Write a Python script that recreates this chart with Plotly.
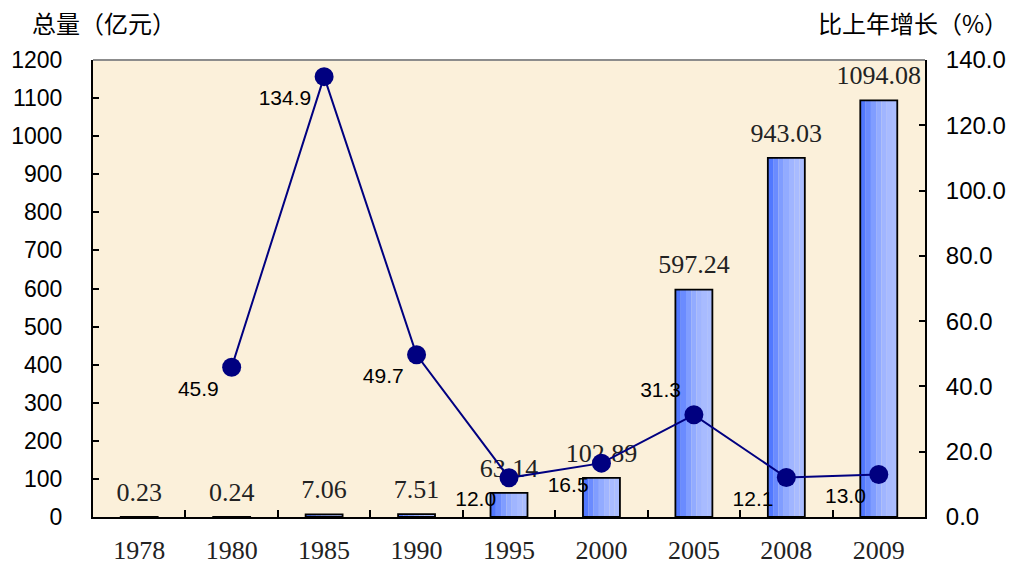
import plotly.graph_objects as go

years = ["1978", "1980", "1985", "1990", "1995", "2000", "2005", "2008", "2009"]
totals = [0.23, 0.24, 7.06, 7.51, 63.14, 102.89, 597.24, 943.03, 1094.08]
total_labels = ["0.23", "0.24", "7.06", "7.51", "63.14", "102.89", "597.24", "943.03", "1094.08"]
growth = [None, 45.9, 134.9, 49.7, 12.0, 16.5, 31.3, 12.1, 13.0]
growth_labels = ["", "45.9", "134.9", "49.7", "12.0", "16.5", "31.3", "12.1", "13.0"]

left_title = "总量（亿元）"
right_title = "比上年增长（%）"

fig = go.Figure()

# gradient-like bar fill built from narrow overlaid strips
bar_w = 0.40
strip_colors = ["#5178ff", "#6a8bff", "#809dff", "#92abff", "#a0b5ff", "#a8bbff", "#aabdff"]
n = len(strip_colors)
sw = bar_w / n
for i, c in enumerate(strip_colors):
    fig.add_trace(go.Bar(
        x=years, y=totals, width=sw * 1.02, offset=-bar_w / 2 + i * sw,
        marker=dict(color=c, line=dict(width=0)),
        showlegend=False, hoverinfo="skip", yaxis="y"))

# outline
fig.add_trace(go.Bar(
    x=years, y=totals, width=bar_w, offset=-bar_w / 2,
    marker=dict(color="rgba(0,0,0,0)", line=dict(color="black", width=1.8)),
    showlegend=False, hoverinfo="skip", yaxis="y"))

# bar value labels
fig.add_trace(go.Scatter(
    x=years, y=totals, mode="markers+text", text=total_labels,
    textposition="top center",
    marker=dict(size=14, color="rgba(0,0,0,0)"),
    textfont=dict(family="Liberation Serif", size=26, color="#222222"),
    showlegend=False, hoverinfo="skip", yaxis="y", cliponaxis=False))

# growth line
positions = ["bottom left"] * len(years)
positions[6] = "top left"
fig.add_trace(go.Scatter(
    x=years, y=growth, mode="lines+markers+text", text=growth_labels,
    textposition=positions,
    textfont=dict(family="Liberation Sans", size=21, color="black"),
    line=dict(color="#000080", width=2),
    marker=dict(color="#000080", size=19),
    showlegend=False, hoverinfo="skip", yaxis="y2", cliponaxis=False))

fig.update_layout(
    width=1019, height=564,
    margin=dict(l=93, r=94, t=60, b=47),
    paper_bgcolor="white",
    plot_bgcolor="#fbf0da",
    barmode="overlay",
    xaxis=dict(
        type="category", range=[-0.5, len(years) - 0.5],
        showgrid=False, showline=True, linecolor="black", linewidth=2,
        ticks="inside", tickson="boundaries", ticklen=7, tickcolor="black", tickwidth=1.5,
        tickfont=dict(family="Liberation Serif", size=26, color="#222222"),
        ticklabelstandoff=9, automargin=False,
    ),
    yaxis=dict(
        range=[0, 1200], dtick=100, showgrid=False, zeroline=False,
        showline=True, linecolor="black", linewidth=2,
        ticks="inside", ticklen=6, tickcolor="black", tickwidth=1.5,
        tickfont=dict(family="Liberation Sans", size=23, color="black"),
        ticklabelstandoff=24, automargin=False,
    ),
    yaxis2=dict(
        range=[0, 140], dtick=20, tickformat=".1f", overlaying="y", side="right",
        showgrid=False, zeroline=False,
        showline=True, linecolor="black", linewidth=2,
        ticks="inside", ticklen=6, tickcolor="black", tickwidth=1.5,
        tickfont=dict(family="Liberation Sans", size=24, color="black"),
        ticklabelstandoff=14, automargin=False,
    ),
    shapes=[dict(type="line", xref="paper", yref="paper", x0=0, x1=1, y0=1, y1=1,
                 line=dict(color="#8c8c8c", width=2))],
    annotations=[
        dict(text=left_title, xref="paper", yref="paper", x=-0.076, y=1.0, yshift=38,
             xanchor="left", yanchor="middle", showarrow=False,
             font=dict(family="Noto Sans CJK SC", size=24, color="black")),
        dict(text=right_title, xref="paper", yref="paper", x=1.102, y=1.0, yshift=38,
             xanchor="right", yanchor="middle", showarrow=False,
             font=dict(family="Noto Sans CJK SC", size=24, color="black")),
    ],
)

fig.write_html("out.html", config={"displayModeBar": False},
               post_script="document.body.style.margin='0';")
